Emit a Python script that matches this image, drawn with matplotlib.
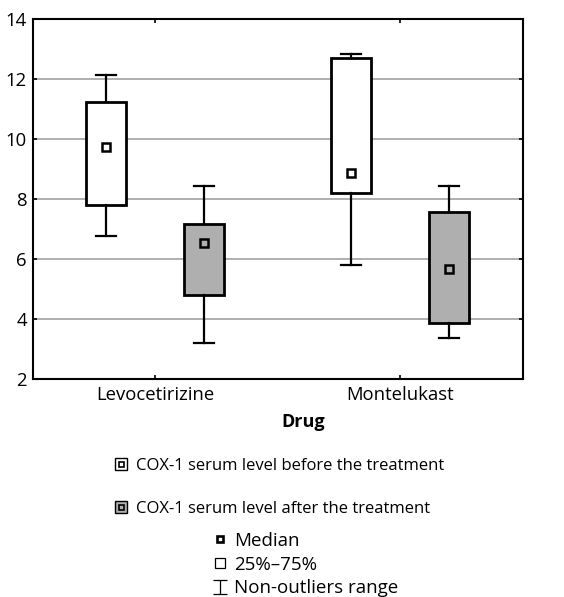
import numpy as np
import matplotlib.pyplot as plt
from matplotlib.lines import Line2D
from matplotlib.path import Path
from matplotlib.legend_handler import HandlerTuple

plt.rcParams['font.family'] = ['Open Sans', 'DejaVu Sans']

drugs = ['Levocetirizine', 'Montelukast']
# before / after treatment
before_whislo = [6.76, 5.81]
before_q1 = [7.80, 8.19]
before_med = [9.73, 8.85]
before_q3 = [11.22, 12.70]
before_whishi = [12.12, 12.82]

after_whislo = [3.21, 3.38]
after_q1 = [4.80, 3.85]
after_med = [6.52, 5.66]
after_q3 = [7.15, 7.57]
after_whishi = [8.42, 8.42]

labels = ['COX-1 serum level before the treatment',
          'COX-1 serum level after the treatment']
colors = ['white', '#afafaf']

fig = plt.figure(figsize=(5.64, 5.97), dpi=100)
ax = fig.add_axes([32.5 / 564, 1 - 379 / 597, 490 / 564, 360.5 / 597])

cat_pos = np.array([1.0, 3.0])
offset = 0.4
width = 0.32

groups = [
    (before_whislo, before_q1, before_med, before_q3, before_whishi),
    (after_whislo, after_q1, after_med, after_q3, after_whishi),
]
for k, (lo, q1, med, q3, hi) in enumerate(groups):
    stats = []
    for i in range(len(drugs)):
        stats.append(dict(whislo=lo[i], q1=q1[i], med=med[i], q3=q3[i],
                          whishi=hi[i], fliers=[]))
    pos = cat_pos + (2 * k - 1) * offset
    ax.bxp(stats, positions=pos, widths=width, patch_artist=True,
           showfliers=False, manage_ticks=False,
           boxprops=dict(facecolor=colors[k], edgecolor='black', linewidth=2),
           whiskerprops=dict(color='black', linewidth=1.6),
           capprops=dict(color='black', linewidth=1.6),
           medianprops=dict(visible=False), capwidths=width / 2)
    ax.plot(pos, med, ls='none', marker='s', ms=5.5, mfc=colors[k],
            mec='black', mew=1.8, zorder=5)

ax.set_xlim(0, 4)
ax.set_ylim(2, 14)
ax.set_yticks(np.arange(2, 15, 2))
ax.set_xticks(cat_pos)
ax.set_xticklabels(drugs, fontsize=13.8)
ax.tick_params(axis='both', direction='in', length=3, width=1.2,
               labelsize=13.3, top=True, right=True, color='black')
ax.tick_params(axis='x', pad=5)
ax.tick_params(axis='y', pad=4)
ax.yaxis.grid(True, color='#9a9a9a', linewidth=1.1)
ax.set_axisbelow(True)
for s in ax.spines.values():
    s.set_linewidth(1.5)
ax.set_xlabel('Drug', fontsize=13, fontweight='bold')
ax.xaxis.set_label_coords((303 - 32.5) / 490, -0.095)

# legend for the two series
h1 = []
for c in colors:
    outer = Line2D([], [], ls='none', marker='s', ms=8.2, mfc=c, mec='black', mew=1.0)
    inner = Line2D([], [], ls='none', marker='s', ms=3.6, mfc=c, mec='black', mew=1.2)
    h1.append((outer, inner))
fig.legend(h1, labels, handler_map={tuple: HandlerTuple(ndivide=1, pad=0)},
           loc='upper left', bbox_to_anchor=(113 / 564, 1 - 458 / 597),
           frameon=False, fontsize=12, handlelength=0.9, handletextpad=0.45,
           labelspacing=1.6, borderpad=0, borderaxespad=0)

# key for the box symbols
ibeam = Path([(-1, 1), (1, 1), (0, 1), (0, -1), (-1, -1), (1, -1)],
             [Path.MOVETO, Path.LINETO, Path.MOVETO, Path.LINETO,
              Path.MOVETO, Path.LINETO])
h2 = [Line2D([], [], ls='none', marker='s', ms=5.0, mfc='white', mec='black', mew=1.9),
      Line2D([], [], ls='none', marker='s', ms=6.8, mfc='white', mec='black', mew=0.9),
      Line2D([], [], ls='none', marker=ibeam, ms=9.5, mfc='none', mec='black', mew=0.9)]
fig.legend(h2, ['Median', '25%–75%', 'Non-outliers range'],
           loc='upper left', bbox_to_anchor=(212 / 564, 1 - 532 / 597),
           frameon=False, fontsize=13.5, handlelength=0.9, handletextpad=0.3,
           labelspacing=0.3, borderpad=0, borderaxespad=0)

fig.savefig('out.png', dpi=100)
